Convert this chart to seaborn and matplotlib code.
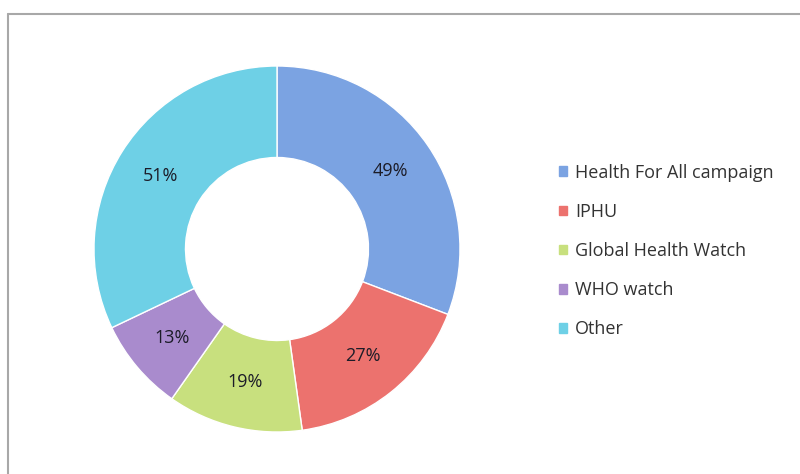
import matplotlib
matplotlib.use("Agg")
import matplotlib.pyplot as plt
from matplotlib.lines import Line2D
import numpy as np
import seaborn as sns

categories = ["Health For All campaign", "IPHU", "Global Health Watch", "WHO watch", "Other"]
values = [49, 27, 19, 13, 51]
labels = ["49%", "27%", "19%", "13%", "51%"]
colors = ["#7BA3E2", "#EC726E", "#C8E07E", "#A98BCD", "#6ED0E6"]

sns.set_theme(style="white")
plt.rcParams['font.family'] = ['Open Sans', 'DejaVu Sans']

fig = plt.figure(figsize=(8, 4.74), dpi=100)
fig.patch.set_facecolor("white")

# frame lines (top and left)
fig.add_artist(Line2D([8/800, 1], [1 - 14/474, 1 - 14/474], color="#a8a8a8", lw=1.5, transform=fig.transFigure))
fig.add_artist(Line2D([8/800, 8/800], [0, 1 - 14/474], color="#a8a8a8", lw=1.5, transform=fig.transFigure))

cx, cy, r = 277, 249, 183
ax = fig.add_axes([(cx - r) / 800, (474 - cy - r) / 474, 2 * r / 800, 2 * r / 474])
pal = sns.color_palette(colors)
wedges, texts = ax.pie(values, colors=pal, startangle=90, counterclock=False,
                       radius=1, wedgeprops=dict(width=0.5, edgecolor="white", linewidth=1))
total = sum(values)
cum = 0
for v, lab in zip(values, labels):
    mid = 90 - (cum + v / 2) / total * 360
    cum += v
    ax.text(0.75 * np.cos(np.radians(mid)), 0.75 * np.sin(np.radians(mid)), lab,
            ha="center", va="center", fontsize=13, color="#1c1c28")
ax.set_xlim(-1, 1)
ax.set_ylim(-1, 1)
ax.set_aspect("auto")
ax.axis("off")

handles = [plt.Rectangle((0, 0), 1, 1, color=c) for c in pal]
fig.legend(handles, categories, loc="center left", bbox_to_anchor=(550/800, 1 - 251/474),
           frameon=False, fontsize=13, handlelength=0.45, handleheight=0.45,
           handletextpad=0.45, labelspacing=1.17, borderpad=0, labelcolor="#333333")

fig.savefig("out.png", dpi=100, facecolor="white")
